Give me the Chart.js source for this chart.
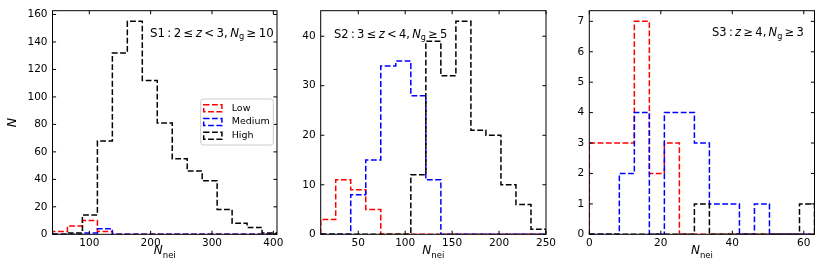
<!DOCTYPE html>
<html>
<head>
<meta charset="utf-8">
<script src="https://cdn.jsdelivr.net/npm/chart.js@4.4.0/dist/chart.umd.min.js"></script>
<style>
  html, body { margin: 0; padding: 0; background: #fff; }
  #wrap { position: relative; width: 830px; height: 277px; overflow: hidden; }
  canvas { position: absolute; top: 0; }
</style>
</head>
<body>
<div id="wrap">
  <canvas id="s1"></canvas>
  <canvas id="s2"></canvas>
  <canvas id="s3"></canvas>
</div>
<script>
// ─── Data ──────────────────────────────────

const seriesLabels = ['Low', 'Medium', 'High'];
const seriesColors = ['#ff0000', '#0000ff', '#000000'];

// S1 : 2 <= z < 3
const s1Edges  = [40, 64.4, 88.8, 113.2, 137.6, 162, 186.4, 210.8, 235.2, 259.6, 284, 308.4, 332.8, 357.2, 381.6, 406];
const s1Low    = [2, 6, 10, 2, 0, 0, 0, 0, 0, 0, 0, 0, 0, 0, 0];
const s1Medium = [0, 0, 1, 4, 0, 0, 0, 0, 0, 0, 0, 0, 0, 0, 0];
const s1High   = [0, 1, 14, 68, 132, 155, 112, 81, 55, 46, 39, 18, 8, 5, 1];
const s1XTicks = [100, 200, 300, 400];
const s1YTicks = [0, 20, 40, 60, 80, 100, 120, 140, 160];

// S2 : 3 <= z < 4
const s2Edges  = [10, 26, 42, 58, 74, 90, 106, 122, 138, 154, 170, 186, 202, 218, 234, 250];
const s2Low    = [3, 11, 9, 5, 0, 0, 0, 0, 0, 0, 0, 0, 0, 0, 0];
const s2Medium = [0, 0, 8, 15, 34, 35, 28, 11, 0, 0, 0, 0, 0, 0, 0];
const s2High   = [0, 0, 0, 0, 0, 0, 12, 39, 32, 43, 21, 20, 10, 6, 1];
const s2XTicks = [50, 100, 150, 200, 250];
const s2YTicks = [0, 10, 20, 30, 40];

// S3 : z >= 4
const s3Edges  = [0, 4.2, 8.4, 12.6, 16.8, 21, 25.2, 29.4, 33.6, 37.8, 42, 46.2, 50.4, 54.6, 58.8, 63];
const s3Low    = [3, 3, 3, 7, 2, 3, 0, 0, 0, 0, 0, 0, 0, 0, 0];
const s3Medium = [0, 0, 2, 4, 0, 4, 4, 3, 1, 1, 0, 1, 0, 0, 0];
const s3High   = [0, 0, 0, 0, 0, 0, 0, 1, 0, 0, 0, 0, 0, 0, 1];
const s3XTicks = [0, 20, 40, 60];
const s3YTicks = [0, 1, 2, 3, 4, 5, 6, 7];

// ─── Layout ────────────────────────────────

const FONT      = 'DejaVu Sans';
const AREA_TOP  = 10.7;
const AREA_BOT  = 234.3;
const TICK_LEN  = 3.6;
const DASH      = [5.8, 2.5];

Chart.defaults.font.family = FONT;
Chart.defaults.color = '#000';

const panels = [
    {
        id: 's1', left: 52.5, right: 277,
        edges: s1Edges, series: [s1Low, s1Medium, s1High], xTicks: s1XTicks, yTicks: s1YTicks,
        note: [['S1', ''], ['\u2009:\u20092\u2009\u2264\u2009', ''], ['z', 'i'], ['\u2009<\u20093,\u2009', ''], ['N', 'i'], ['g', 'sub'], ['\u2009\u2265\u200910', '']],
        noteX: 150, noteY: 36.5, noteSize: 11.8,
        yTitle: true, legend: { x: 200.7, y: 99, w: 72.6, h: 46 }
    },
    {
        id: 's2', left: 320.7, right: 546,
        edges: s2Edges, series: [s2Low, s2Medium, s2High], xTicks: s2XTicks, yTicks: s2YTicks,
        note: [['S2', ''], ['\u2009:\u20093\u2009\u2264\u2009', ''], ['z', 'i'], ['\u2009<\u20094,\u2009', ''], ['N', 'i'], ['g', 'sub'], ['\u2009\u2265\u20095', '']],
        noteX: 334, noteY: 37.5, noteSize: 11.5
    },
    {
        id: 's3', left: 589.3, right: 814.5,
        edges: s3Edges, series: [s3Low, s3Medium, s3High], xTicks: s3XTicks, yTicks: s3YTicks,
        note: [['S3', ''], ['\u2009:\u2009', ''], ['z', 'i'], ['\u2009\u2265\u20094,\u2009', ''], ['N', 'i'], ['g', 'sub'], ['\u2009\u2265\u20093', '']],
        noteX: 712, noteY: 36, noteSize: 11.5
    }
];

// outline of a step histogram, taken straight from edges + counts
function stepPoints(edges, counts) {
    const pts = [{ x: edges[0], y: 0 }];
    counts.forEach((c, i) => {
        pts.push({ x: edges[i], y: c });
        pts.push({ x: edges[i + 1], y: c });
    });
    pts.push({ x: edges[edges.length - 1], y: 0 });
    return pts;
}

// ─── Plugins ───────────────────────────────

function drawNote(ctx, parts, x, y, size) {
    ctx.save();
    ctx.fillStyle = '#000';
    ctx.textBaseline = 'alphabetic';
    ctx.textAlign = 'left';
    parts.forEach(([txt, style]) => {
        let fs = size, dy = 0, st = '';
        if (style === 'i') st = 'italic ';
        if (style === 'sub') { fs = size * 0.7; dy = size * 0.22; }
        ctx.font = `${st}${fs}px "${FONT}"`;
        ctx.fillText(txt, x, y + dy);
        x += ctx.measureText(txt).width;
    });
    ctx.restore();
}

const framePlugin = {
    id: 'frame',
    afterDraw(chart, args, opts) {
        const { ctx, chartArea: a, scales: { x, y } } = chart;
        const p = opts.panel;
        const off = chart.canvas.offsetLeft;
        ctx.save();
        ctx.strokeStyle = '#000';
        ctx.lineWidth = 1;
        ctx.strokeRect(a.left, a.top, a.right - a.left, a.bottom - a.top);

        ctx.beginPath();
        x.ticks.forEach(t => {
            const px = x.getPixelForValue(t.value);
            ctx.moveTo(px, a.bottom); ctx.lineTo(px, a.bottom - TICK_LEN);
            ctx.moveTo(px, a.top);    ctx.lineTo(px, a.top + TICK_LEN);
        });
        y.ticks.forEach(t => {
            const py = y.getPixelForValue(t.value);
            ctx.moveTo(a.left, py);  ctx.lineTo(a.left + TICK_LEN, py);
            ctx.moveTo(a.right, py); ctx.lineTo(a.right - TICK_LEN, py);
        });
        ctx.stroke();

        // x title  N_nei
        const cx = (a.left + a.right) / 2;
        ctx.font = `italic 12px "${FONT}"`;
        const wN = ctx.measureText('N').width;
        ctx.font = `8.5px "${FONT}"`;
        const wS = ctx.measureText('nei').width;
        const x0 = cx - (wN + wS) / 2;
        ctx.fillStyle = '#000';
        ctx.font = `italic 12px "${FONT}"`;
        ctx.fillText('N', x0, 254.3);
        ctx.font = `8.5px "${FONT}"`;
        ctx.fillText('nei', x0 + wN, 257.5);

        drawNote(ctx, p.note, p.noteX - off, p.noteY, p.noteSize);

        // legend
        if (p.legend) {
            const L = p.legend;
            const lx = L.x - off, r = 2.5;
            ctx.beginPath();
            ctx.moveTo(lx + r, L.y);
            ctx.arcTo(lx + L.w, L.y, lx + L.w, L.y + L.h, r);
            ctx.arcTo(lx + L.w, L.y + L.h, lx, L.y + L.h, r);
            ctx.arcTo(lx, L.y + L.h, lx, L.y, r);
            ctx.arcTo(lx, L.y, lx + L.w, L.y, r);
            ctx.closePath();
            ctx.fillStyle = 'rgba(255,255,255,0.8)';
            ctx.fill();
            ctx.strokeStyle = '#cccccc';
            ctx.lineWidth = 1;
            ctx.stroke();

            seriesLabels.forEach((lab, i) => {
                const ry = L.y + 9.3 + i * 13.7;
                ctx.setLineDash(DASH);
                ctx.strokeStyle = seriesColors[i];
                ctx.lineWidth = 1.5;
                ctx.strokeRect(lx + 3, ry - 3.5, 18.2, 7);
                ctx.setLineDash([]);
                ctx.fillStyle = '#000';
                ctx.font = `9.5px "${FONT}"`;
                ctx.textBaseline = 'middle';
                ctx.fillText(lab, lx + 31, ry);
            });
        }
        ctx.restore();
    }
};

// ─── Charts ────────────────────────────────

panels.forEach(p => {
    const canvas = document.getElementById(p.id);
    const cl = Math.round(p.left - 55);
    const cw = Math.min(830, Math.round(p.right + 14)) - cl;
    canvas.width = cw;
    canvas.height = 277;
    canvas.style.left = cl + 'px';

    const yMax = Math.max(...p.series.flat()) * 1.05;

    new Chart(canvas.getContext('2d'), {
        type: 'line',
        data: {
            datasets: p.series.map((counts, i) => ({
                label: seriesLabels[i],
                data: stepPoints(p.edges, counts),
                borderColor: seriesColors[i],
                borderWidth: 1.5,
                borderDash: DASH,
                pointRadius: 0,
                fill: false,
                tension: 0,
                order: 3 - i
            }))
        },
        options: {
            responsive: false,
            animation: false,
            events: [],
            layout: { padding: { top: AREA_TOP, right: cl + cw - p.right, bottom: 0, left: 0 } },
            plugins: {
                legend: { display: false },
                tooltip: { enabled: false },
                frame: { panel: p }
            },
            scales: {
                x: {
                    type: 'linear',
                    min: p.edges[0],
                    max: p.edges[p.edges.length - 1],
                    grid: { display: false, drawTicks: false },
                    border: { display: false },
                    ticks: { font: { size: 10.5 }, padding: 3, maxRotation: 0, autoSkip: false, color: '#000' },
                    afterBuildTicks: s => { s.ticks = p.xTicks.map(v => ({ value: v })); },
                    afterFit: s => { s.height = 277 - AREA_BOT; s.paddingLeft = 0; s.paddingRight = 0; }
                },
                y: {
                    min: 0,
                    max: yMax,
                    grid: { display: false, drawTicks: false },
                    border: { display: false },
                    ticks: { font: { size: 10.5 }, padding: 5, autoSkip: false, color: '#000' },
                    title: {
                        display: !!p.yTitle, text: 'N', color: '#000',
                        font: { size: 12.5, style: 'italic' }, padding: { top: 7, bottom: 0 }
                    },
                    afterBuildTicks: s => { s.ticks = p.yTicks.map(v => ({ value: v })); },
                    afterFit: s => { s.width = p.left - cl; s.paddingTop = 0; s.paddingBottom = 0; }
                }
            }
        },
        plugins: [framePlugin]
    });
});
</script>
</body>
</html>
